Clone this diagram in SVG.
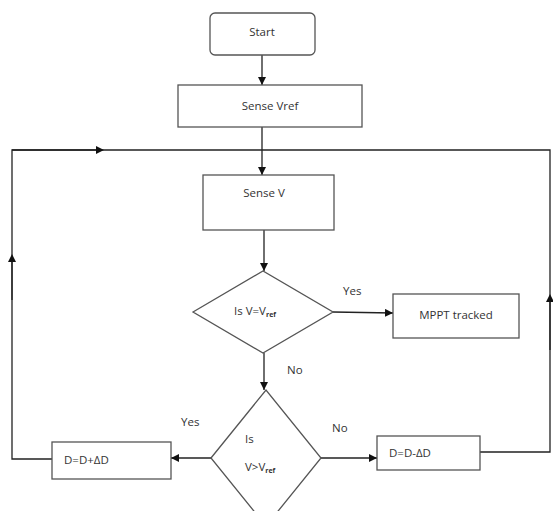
<svg xmlns="http://www.w3.org/2000/svg" width="553" height="511" viewBox="0 0 553 511">
<style>
.box{fill:#fff;stroke:#555;stroke-width:1.3}
.ln{fill:none;stroke:#222;stroke-width:1.3}
.t{font-family:"Open Sans","Liberation Sans",sans-serif;font-size:11.5px;fill:#333}
.s{font-size:7px;font-weight:bold}
</style>
<defs>
<marker id="ah" viewBox="0 0 10 10" refX="10" refY="5" markerWidth="8" markerHeight="8" markerUnits="userSpaceOnUse" orient="auto">
<path d="M0,0 L10,5 L0,10 z" fill="#111"/>
</marker>
<marker id="mh" viewBox="0 0 10 10" refX="5" refY="5" markerWidth="8" markerHeight="8" markerUnits="userSpaceOnUse" orient="auto">
<path d="M0,0 L10,5 L0,10 z" fill="#111"/>
</marker>
</defs>
<rect width="553" height="511" fill="#fff"/>
<g id="connectors">
<line class="ln" x1="262" y1="55" x2="262" y2="85" marker-end="url(#ah)"/>
<line class="ln" x1="262" y1="127" x2="262" y2="175" marker-end="url(#ah)"/>
<line class="ln" x1="264" y1="230" x2="264" y2="271" marker-end="url(#ah)"/>
<line class="ln" x1="333" y1="312" x2="393" y2="313" marker-end="url(#ah)"/>
<line class="ln" x1="264" y1="353" x2="264" y2="390" marker-end="url(#ah)"/>
<line class="ln" x1="211" y1="458" x2="171" y2="458" marker-end="url(#ah)"/>
<line class="ln" x1="321" y1="458" x2="377" y2="458" marker-end="url(#ah)"/>
<polyline class="ln" points="52,459 12,459 12,150 550,150 550,452 480,452"/>
<line class="ln" x1="12" y1="300" x2="12" y2="258" marker-end="url(#mh)"/>
<line class="ln" x1="12" y1="150" x2="100" y2="150" marker-end="url(#mh)"/>
<line class="ln" x1="550" y1="350" x2="550" y2="298" marker-end="url(#mh)"/>
<text class="t" x="343" y="295">Yes</text>
<text class="t" x="287" y="374">No</text>
<text class="t" x="181" y="426">Yes</text>
<text class="t" x="332" y="432">No</text>
</g>
<g id="start">
<rect class="box" x="210" y="13" width="105" height="42" rx="5"/>
<text class="t" x="262" y="36" text-anchor="middle">Start</text>
</g>
<g id="sense-vref">
<rect class="box" x="178" y="85" width="184" height="42"/>
<text class="t" x="270" y="110" text-anchor="middle">Sense Vref</text>
</g>
<g id="sense-v">
<rect class="box" x="203" y="175" width="131" height="55"/>
<text class="t" x="264" y="197" text-anchor="middle">Sense V</text>
</g>
<g id="decision1">
<polygon class="box" points="193,312 263,271 333,312 263,353"/>
<text class="t" x="234" y="315">Is V=V<tspan class="s" dy="2">ref</tspan></text>
</g>
<g id="mppt">
<rect class="box" x="393" y="294" width="126" height="44"/>
<text class="t" x="456" y="319" text-anchor="middle" font-size="13">MPPT tracked</text>
</g>
<g id="decision2">
<polygon class="box" points="211,458 266,390 321,458 266,526"/>
<text class="t" x="245" y="443">Is</text>
<text class="t" x="245" y="471">V&gt;V<tspan class="s" dy="2">ref</tspan></text>
</g>
<g id="d-plus">
<rect class="box" x="52" y="442" width="119" height="37"/>
<text class="t" x="64" y="464">D=D+ΔD</text>
</g>
<g id="d-minus">
<rect class="box" x="377" y="436" width="103" height="34"/>
<text class="t" x="389" y="457">D=D-ΔD</text>
</g>
</svg>
